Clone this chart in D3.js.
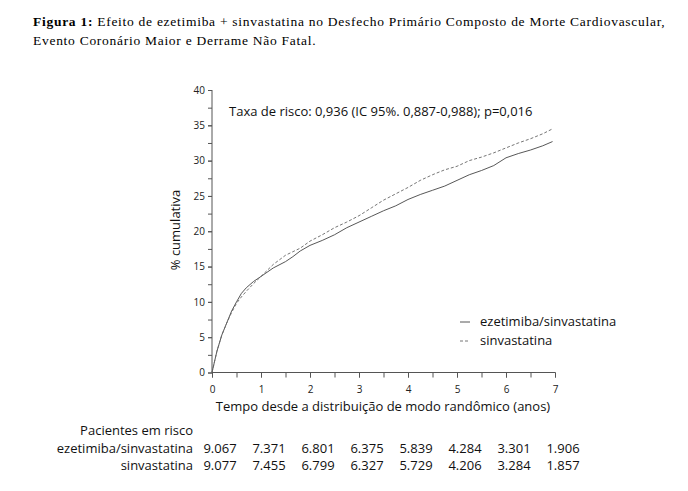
<!DOCTYPE html>
<html><head><meta charset="utf-8">
<script src="https://cdn.jsdelivr.net/npm/d3@7/dist/d3.min.js"></script>
<style>body{margin:0;background:#fff}svg{display:block}</style>
</head><body>
<svg id="c" width="688" height="491"></svg>
<script>
const times = [0,0.05,0.1,0.2,0.3,0.4,0.5,0.6,0.7,0.85,1,1.25,1.5,1.65,1.8,2,2.25,2.5,2.75,3,3.25,3.5,3.75,4,4.25,4.5,4.75,5,5.25,5.5,5.75,6,6.25,6.5,6.75,6.95];
const ezeSinva = [0,1.5,3,5.3,7,8.7,10,11.2,12,12.9,13.6,14.8,15.7,16.4,17.2,18,18.7,19.5,20.5,21.3,22.1,22.9,23.6,24.5,25.2,25.8,26.4,27.2,28,28.6,29.3,30.4,31,31.5,32.1,32.7];
const sinva = [0,1.5,3,5.3,7,8.5,9.8,10.7,11.5,12.6,13.6,15.3,16.6,17.1,17.6,18.6,19.5,20.5,21.3,22.2,23.3,24.4,25.3,26.2,27.2,28,28.7,29.2,30,30.5,31.1,31.8,32.5,33.1,33.8,34.5];
const xTicks = [0,1,2,3,4,5,6,7];
const yTicks = [0,5,10,15,20,25,30,35,40];
const riskYears = [0,1,2,3,4,5,6,7];
const riskEze = ["9.067","7.371","6.801","6.375","5.839","4.284","3.301","1.906"];
const riskSinva = ["9.077","7.455","6.799","6.327","5.729","4.206","3.284","1.857"];
const seriesNames = ["ezetimiba/sinvastatina","sinvastatina"];

const svg = d3.select("#c");
const x = d3.scaleLinear().domain([0,7]).range([212,555]);
const y = d3.scaleLinear().domain([0,40]).range([372.5,90]);
const sans = "'Open Sans', sans-serif";
const axisColor = "#555";

// Title
const serif = "'Liberation Serif', serif";
const t = svg.append("text").attr("x",33).attr("y",26).attr("font-family",serif).attr("font-size",13.5).attr("letter-spacing",0.72).attr("fill","#000");
t.append("tspan").attr("font-weight","bold").text("Figura 1:");
t.append("tspan").text(" Efeito de ezetimiba + sinvastatina no Desfecho Primário Composto de Morte Cardiovascular,");
svg.append("text").attr("x",33).attr("y",45).attr("font-family",serif).attr("font-size",13.5).attr("letter-spacing",0.72).text("Evento Coronário Maior e Derrame Não Fatal.");

// Axes
const minorX = d3.range(0,7.01,0.5);
const minorY = d3.range(0,40.01,2.5);
const gx = svg.append("g").attr("transform",`translate(0,${y(0)})`)
  .call(d3.axisBottom(x).tickValues(minorX).tickSize(5).tickFormat(""));
const gx2 = svg.append("g").attr("transform",`translate(0,${y(0)})`)
  .call(d3.axisBottom(x).tickValues(xTicks).tickSize(5).tickPadding(8).tickFormat(d3.format("d")));
const gy = svg.append("g").attr("transform",`translate(${x(0)},0)`)
  .call(d3.axisLeft(y).tickValues(minorY).tickSize(4).tickFormat(""));
const gy2 = svg.append("g").attr("transform",`translate(${x(0)},0)`)
  .call(d3.axisLeft(y).tickValues(yTicks).tickSize(4).tickPadding(3).tickFormat(d3.format("d")));
[gx,gx2,gy,gy2].forEach(g=>{
  g.selectAll("path").attr("stroke",axisColor).attr("stroke-width",1);
  g.selectAll("line").attr("stroke",axisColor).attr("stroke-width",1);
  g.selectAll("text").attr("font-family",sans).attr("font-size",10).attr("fill","#222");
});
gx.select(".domain").remove(); gy.select(".domain").remove();
gx2.selectAll(".domain").attr("d",`M${x(0)},0H${x(7)}`);
gy2.selectAll(".domain").attr("d",`M0,${y(0)}V${y(40)}`);

// Axis titles
svg.append("text").attr("x",383).attr("y",411).attr("text-anchor","middle").attr("font-family",sans).attr("font-size",13).attr("fill","#111")
  .text("Tempo desde a distribuição de modo randômico (anos)");
svg.append("text").attr("transform",`translate(180,230) rotate(-90)`).attr("text-anchor","middle").attr("font-family",sans).attr("font-size",13).attr("fill","#111")
  .text("% cumulativa");

// Annotation
svg.append("text").attr("x",229).attr("y",116).attr("font-family",sans).attr("font-size",13).attr("fill","#111")
  .text("Taxa de risco: 0,936 (IC 95%. 0,887-0,988); p=0,016");

// Lines
const line = d3.line().x((d,i)=>x(times[i])).y(d=>y(d));
svg.append("path").datum(ezeSinva).attr("d",line).attr("fill","none").attr("stroke","#444").attr("stroke-width",0.9);
svg.append("path").datum(sinva).attr("d",line).attr("fill","none").attr("stroke","#666").attr("stroke-width",0.9).attr("stroke-dasharray","3,2");

// Legend
const lg = svg.append("g");
[0,1].forEach(i=>{
  const yy = 326 + i*19;
  lg.append("line").attr("x1",460).attr("x2",470).attr("y1",yy-4).attr("y2",yy-4)
    .attr("stroke", i? "#666":"#444").attr("stroke-width",0.9).attr("stroke-dasharray", i? "3,2":null);
  lg.append("text").attr("x",480).attr("y",yy).attr("font-family",sans).attr("font-size",13).attr("fill","#111").text(seriesNames[i]);
});

// Risk table
const tf = {"font-family":sans,"font-size":13,"fill":"#111"};
function txt(xx,yy,s,anchor){const e=svg.append("text").attr("x",xx).attr("y",yy).attr("text-anchor",anchor).text(s);Object.entries(tf).forEach(([k,v])=>e.attr(k,v));return e;}
txt(193,435,"Pacientes em risco","end");
txt(193,453,seriesNames[0],"end");
txt(193,470,seriesNames[1],"end");
riskYears.forEach((yr,i)=>{
  txt(x(yr)+8,453,riskEze[i],"middle");
  txt(x(yr)+8,470,riskSinva[i],"middle");
});
</script>
</body></html>
